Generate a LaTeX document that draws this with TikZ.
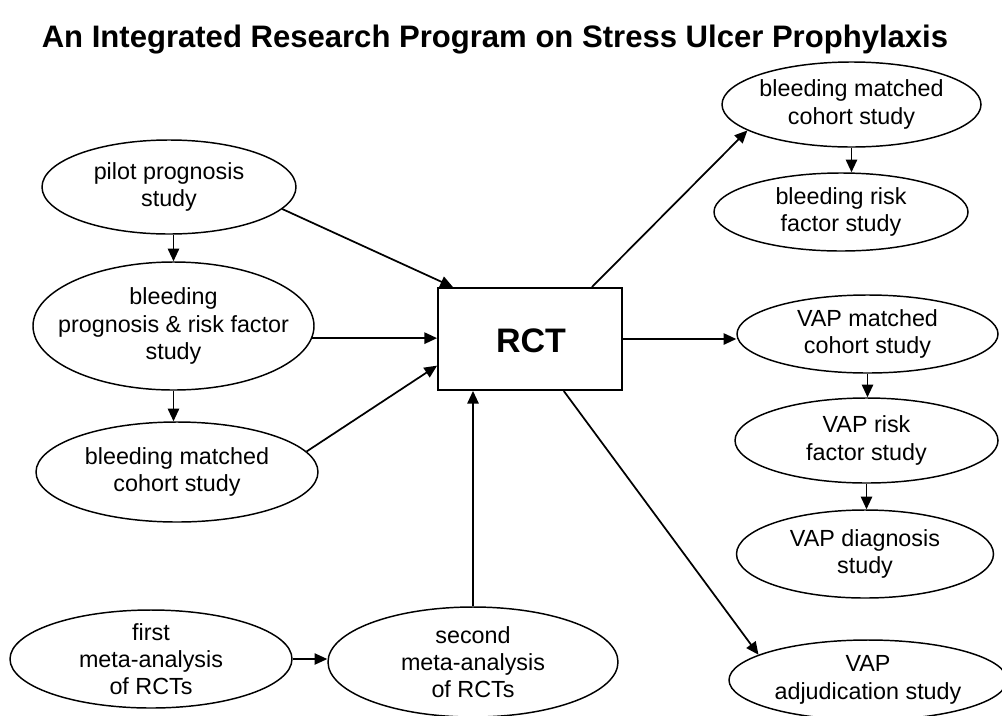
\documentclass[tikz,border=0pt]{standalone}
\usepackage{fontspec}
\setmainfont{Liberation Sans}
\usetikzlibrary{shapes.geometric, arrows.meta, calc}
\begin{document}
\begin{tikzpicture}[x=0.75pt, y=-0.75pt,
  ell/.style={draw, ellipse, line width=1.1pt, inner sep=0pt},
  sz/.style 2 args={minimum width=#1*0.75pt, minimum height=#2*0.75pt},
  lab/.style={align=center, font=\fontsize{17.5}{20.5}\selectfont, inner sep=0pt},
  conn/.style={line width=1.3pt, -{Triangle[length=9.5pt,width=8.5pt]}},
  ]
\useasboundingbox (0,0) rectangle (1002,715);
\node[font=\bfseries\fontsize{23.3}{28}\selectfont, anchor=base] (title) at (495,47) {An Integrated Research Program on Stress Ulcer Prophylaxis};

% central box
\node[draw, line width=1.4pt, sz={184}{102}, inner sep=0pt] (rct) at (530,339) {};
\node[font=\bfseries\fontsize{25.5}{30}\selectfont, anchor=base] (rct-t) at (531,352) {RCT};

% left column
\node[ell, sz={254}{94}] (pilot) at (169,187) {};
\node[lab] (pilot-t) at (pilot.center) {pilot prognosis\\study};
\node[ell, sz={281}{128}] (bprog) at (173.5,326) {};
\node[lab] (bprog-t) at (bprog.center) {bleeding\\prognosis \& risk factor\\study};
\node[ell, sz={282}{100}] (bmatchL) at (177,472) {};
\node[lab] (bmatchL-t) at (bmatchL.center) {bleeding matched\\cohort study};

% bottom
\node[ell, sz={282}{98}] (first) at (151,659) {};
\node[lab] (first-t) at (first.center) {first\\meta-analysis\\of RCTs};
\node[ell, sz={290}{110}] (second) at (473,662) {};
\node[lab] (second-t) at (second.center) {second\\meta-analysis\\of RCTs};

% right column
\node[ell, sz={259}{85}] (bmatchR) at (851.5,104.5) {};
\node[lab] (bmatchR-t) at (bmatchR.center) {bleeding matched\\cohort study};
\node[ell, sz={254}{78}] (brisk) at (841,212) {};
\node[lab] (brisk-t) at (brisk.center) {bleeding risk\\factor study};
\node[ell, sz={261}{78}] (vapm) at (867.5,334) {};
\node[lab] (vapm-t) at (vapm.center) {VAP matched\\cohort study};
\node[ell, sz={263}{85}] (vaprisk) at (866.5,440.5) {};
\node[lab] (vaprisk-t) at (vaprisk.center) {VAP risk\\factor study};
\node[ell, sz={257}{88}] (vapdiag) at (865,554) {};
\node[lab] (vapdiag-t) at (vapdiag.center) {VAP diagnosis\\study};
\node[ell, sz={278}{80}] (vapadj) at (868,680) {};
\node[lab] (vapadj-t) at (vapadj.center) {VAP\\adjudication study};

% connectors
\draw[conn] (pilot.-11) -- (rct.146.5);
\draw[conn] (bprog.-5.3) -- (bprog.-5.3 -| rct.west);
\draw[conn] (bmatchL.9) -- (rct.196);
\draw[conn] (bprog.north |- pilot.south) -- (bprog.north);
\draw[conn] (bprog.south) -- (bprog.south |- bmatchL.north);
\draw[conn, line width=0.9pt] (first.east) -- (first.east -| second.west);
\draw[conn] (second.north) -- (second.north |- rct.south);
\draw[conn] (rct.40.4) -- (bmatchR.194.4);
\draw[conn] (rct.east) -- (rct.east -| vapm.west);
\draw[conn] (rct.-57) -- (vapadj.167.6);
\draw[conn] (bmatchR.south) -- (bmatchR.south |- brisk.north);
\draw[conn] (vapm.south) -- (vapm.south |- vaprisk.north);
\draw[conn] (vaprisk.south) -- (vaprisk.south |- vapdiag.north);
\end{tikzpicture}
\end{document}
